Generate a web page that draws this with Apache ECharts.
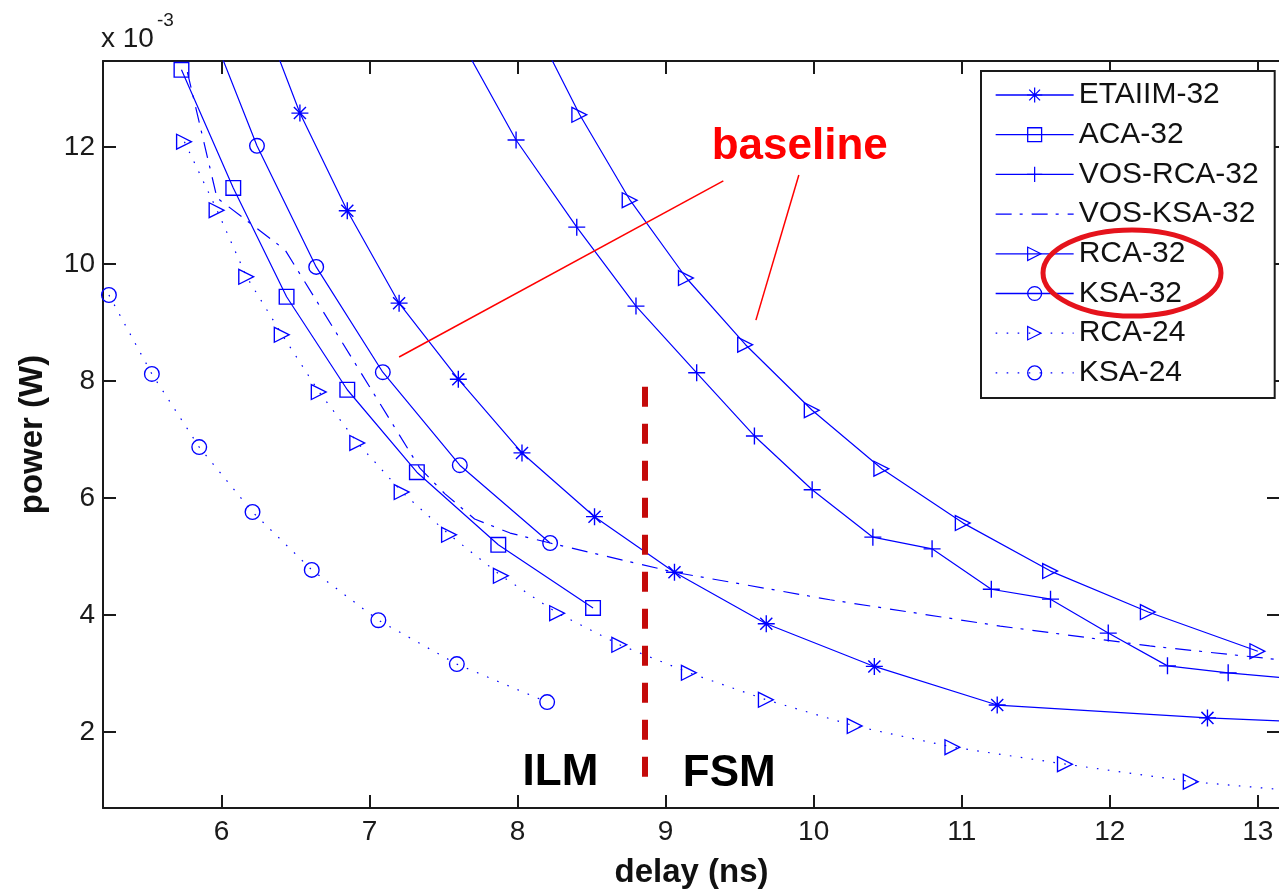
<!DOCTYPE html>
<html>
<head>
<meta charset="utf-8">
<script src="https://cdn.jsdelivr.net/npm/echarts@6/dist/echarts.min.js"></script>
<style>
  html, body { margin: 0; padding: 0; background: #fff; }
  #chart { width: 1279px; height: 893px; }
</style>
</head>
<body>
<div id="chart"></div>
<script>
// delay in ns, power in units of 1e-3 W
const etaiimX = [6.30, 6.53, 6.85, 7.20, 7.60, 8.03, 8.52, 9.06, 9.68, 10.41, 11.24, 12.66, 13.60];
const etaiimY = [14.10, 12.58, 10.91, 9.33, 8.03, 6.77, 5.68, 4.73, 3.85, 3.12, 2.46, 2.24, 2.14];

const acaX = [5.73, 6.08, 6.44, 6.85, 7.32, 7.87, 8.51];
const acaY = [13.32, 11.30, 9.44, 7.85, 6.44, 5.20, 4.12];

const vosRcaX = [7.60, 7.99, 8.40, 8.80, 9.21, 9.60, 9.99, 10.40, 10.80, 11.20, 11.60, 11.99, 12.39, 12.80, 13.20];
const vosRcaY = [13.90, 12.12, 10.63, 9.28, 8.14, 7.06, 6.14, 5.33, 5.13, 4.44, 4.27, 3.69, 3.13, 3.01, 2.92];

const vosKsaX = [5.77, 5.97, 6.43, 7.34, 7.51, 7.71, 7.95, 8.22, 9.06, 10.11, 11.26, 12.27, 13.20];
const vosKsaY = [13.28, 11.13, 10.24, 6.51, 6.07, 5.64, 5.40, 5.23, 4.73, 4.26, 3.81, 3.47, 3.22];

const rca32X = [8.12, 8.42, 8.76, 9.14, 9.54, 9.99, 10.46, 11.01, 11.60, 12.26, 13.00];
const rca32Y = [14.05, 12.55, 11.09, 9.76, 8.62, 7.50, 6.50, 5.57, 4.75, 4.05, 3.38];

const ksa32X = [5.90, 6.24, 6.64, 7.09, 7.61, 8.22];
const ksa32Y = [14.20, 12.02, 9.95, 8.15, 6.56, 5.23];

const rca24X = [5.75, 5.97, 6.17, 6.41, 6.66, 6.92, 7.22, 7.54, 7.89, 8.27, 8.69, 9.16, 9.68, 10.28, 10.94, 11.70, 12.55, 13.45];
const rca24Y = [12.09, 10.92, 9.78, 8.79, 7.81, 6.94, 6.10, 5.37, 4.67, 4.03, 3.49, 3.01, 2.55, 2.10, 1.74, 1.45, 1.15, 0.95];

const ksa24X = [5.24, 5.53, 5.85, 6.21, 6.61, 7.06, 7.59, 8.20];
const ksa24Y = [9.47, 8.12, 6.87, 5.76, 4.77, 3.91, 3.16, 2.51];

const legendNames = ['ETAIIM-32', 'ACA-32', 'VOS-RCA-32', 'VOS-KSA-32', 'RCA-32', 'KSA-32', 'RCA-24', 'KSA-24'];

// annotations, in data coordinates
const baselineLineA = [[7.20, 8.41], [9.39, 11.42]];
const baselineLineB = [[9.90, 11.52], [9.61, 9.04]];
const modeSplitLine = [[8.858, 7.90], [8.858, 1.18]];
const baselineText = [9.906, 12.00];
const ilmText = [8.29, 1.30];
const fsmText = [9.43, 1.29];

const FONT = '"Liberation Sans", Arial, Helvetica, sans-serif';
const BLUE = '#0000ff';
const AXIS = '#1a1a1a';

// marker shapes (hollow ones are rings so the line shows through, like matlab)
const SYM = {
    star: 'path://M9.2,0H10.8V20H9.2Z M0,9.2H20V10.8H0Z M2.3,3.5L3.5,2.3L17.7,16.5L16.5,17.7Z M16.5,2.3L17.7,3.5L3.5,17.7L2.3,16.5Z',
    plus: 'path://M9.2,0H10.8V20H9.2Z M0,9.2H20V10.8H0Z',
    square: 'path://M0,0H20V20H0Z M1.7,1.7V18.3H18.3V1.7Z',
    circle: 'path://M10,0A10,10 0 1,1 10,20A10,10 0 1,1 10,0Z M10,1.7A8.3,8.3 0 1,0 10,18.3A8.3,8.3 0 1,0 10,1.7Z',
    tri: 'path://M0,0L20,10L0,20Z M1.6,2.5L1.6,17.5L16.5,10Z'
};

const zip = (xs, ys) => xs.map((x, i) => [x, ys[i]]);

function curve(name, xs, ys, symbol, size, lineType) {
    return {
        name: name,
        type: 'line',
        data: zip(xs, ys),
        symbol: symbol,
        symbolSize: size,
        showSymbol: true,
        clip: true,
        lineStyle: { color: BLUE, width: 1.2, type: lineType },
        itemStyle: { color: BLUE },
        emphasis: { disabled: true }
    };
}

const dotted = [1.6, 9.4];
const dashDot = [16, 8, 3, 9];

let chart = echarts.init(document.getElementById('chart'));

const vosKsa = curve('VOS-KSA-32', vosKsaX, vosKsaY, 'circle', 0, dashDot);
vosKsa.showSymbol = false;
vosKsa.itemStyle = { color: 'rgba(0,0,0,0)' };

const intTicks = (v) => Math.abs(v - Math.round(v)) < 1e-6 ? String(Math.round(v)) : '';

const option = {
    animation: false,
    backgroundColor: '#fff',
    grid: { left: 103, right: -1, top: 61, bottom: 85, containLabel: false, outerBoundsMode: 'none' },
    xAxis: [{
        type: 'value', min: 5.2, max: 13.15, splitNumber: 8,
        name: 'delay (ns)', nameLocation: 'middle', nameGap: 48,
        nameTextStyle: { fontFamily: FONT, fontSize: 33, fontWeight: 'bold', color: '#111' },
        axisLine: { lineStyle: { color: AXIS, width: 2 } },
        axisTick: { inside: true, length: 13, lineStyle: { color: AXIS, width: 2 } },
        axisLabel: { fontFamily: FONT, fontSize: 28, color: AXIS, margin: 10, formatter: intTicks },
        splitLine: { show: false }
    }, {
        type: 'value', position: 'top', min: 5.2, max: 13.15, splitNumber: 8,
        axisLine: { lineStyle: { color: AXIS, width: 2 } },
        axisTick: { inside: true, length: 13, lineStyle: { color: AXIS, width: 2 } },
        axisLabel: { show: false },
        splitLine: { show: false }
    }],
    yAxis: [{
        type: 'value', min: 0.7, max: 13.47, splitNumber: 6,
        name: 'power (W)', nameLocation: 'middle', nameGap: 54,
        nameTextStyle: { fontFamily: FONT, fontSize: 33, fontWeight: 'bold', color: '#111' },
        axisLine: { lineStyle: { color: AXIS, width: 2 } },
        axisTick: { inside: true, length: 13, lineStyle: { color: AXIS, width: 2 } },
        axisLabel: { fontFamily: FONT, fontSize: 28, color: AXIS, margin: 8, formatter: intTicks },
        splitLine: { show: false }
    }, {
        type: 'value', position: 'right', min: 0.7, max: 13.47, splitNumber: 6,
        axisLine: { lineStyle: { color: AXIS, width: 2 } },
        axisTick: { inside: true, length: 13, lineStyle: { color: AXIS, width: 2 } },
        axisLabel: { show: false },
        splitLine: { show: false }
    }],
    legend: {
        data: legendNames,
        orient: 'vertical',
        left: 981, top: 71,
        padding: [9, 16, 10, 14],
        itemWidth: 78, itemHeight: 19, itemGap: 9.7,
        backgroundColor: '#fff',
        borderColor: AXIS, borderWidth: 2,
        lineStyle: { width: 1.3 },
        textStyle: { fontFamily: FONT, fontSize: 30, lineHeight: 30, color: '#111' },
        selectedMode: false
    },
    series: [
        curve('ETAIIM-32', etaiimX, etaiimY, SYM.star, 17, 'solid'),
        curve('ACA-32', acaX, acaY, SYM.square, 16, 'solid'),
        curve('VOS-RCA-32', vosRcaX, vosRcaY, SYM.plus, 17, 'solid'),
        vosKsa,
        curve('RCA-32', rca32X, rca32Y, SYM.tri, 17, 'solid'),
        curve('KSA-32', ksa32X, ksa32Y, SYM.circle, 16, 'solid'),
        curve('RCA-24', rca24X, rca24Y, SYM.tri, 17, dotted),
        curve('KSA-24', ksa24X, ksa24Y, SYM.circle, 16, dotted),
        {
            name: 'annotations',
            type: 'line',
            data: [],
            silent: true,
            markLine: {
                silent: true,
                symbol: ['none', 'none'],
                label: { show: false },
                emphasis: { disabled: true },
                data: [
                    [{ coord: baselineLineA[0] }, { coord: baselineLineA[1] }],
                    [{ coord: baselineLineB[0] }, { coord: baselineLineB[1] }],
                    [{ coord: modeSplitLine[0], lineStyle: { color: '#c40a0a', width: 6, type: [20, 17] } },
                     { coord: modeSplitLine[1] }]
                ],
                lineStyle: { color: '#ff0000', width: 1.5, type: 'solid' }
            },
            markPoint: {
                silent: true,
                symbol: 'circle',
                symbolSize: 1,
                itemStyle: { color: 'rgba(0,0,0,0)' },
                label: { show: true, position: 'inside', formatter: '{b}', fontFamily: FONT, fontSize: 44, fontWeight: 'bold' },
                data: [
                    { name: 'baseline', coord: baselineText, label: { color: '#ff0000' } },
                    { name: 'ILM', coord: ilmText, label: { color: '#000' } },
                    { name: 'FSM', coord: fsmText, label: { color: '#000' } }
                ]
            }
        }
    ],
    graphic: [
        { type: 'text', x: 101, y: 39, z: 100, style: { text: 'x 10', font: '28px ' + FONT, fill: AXIS, verticalAlign: 'middle' } },
        { type: 'text', x: 157, y: 21, z: 100, style: { text: '-3', font: '19px ' + FONT, fill: AXIS, verticalAlign: 'middle' } },
        { type: 'ellipse', z: 100, shape: { cx: 1132, cy: 273, rx: 89, ry: 43 },
          style: { fill: 'none', stroke: '#e5131c', lineWidth: 5 } }
    ]
};

option && chart.setOption(option);
window.addEventListener('resize', chart.resize);
</script>
</body>
</html>
